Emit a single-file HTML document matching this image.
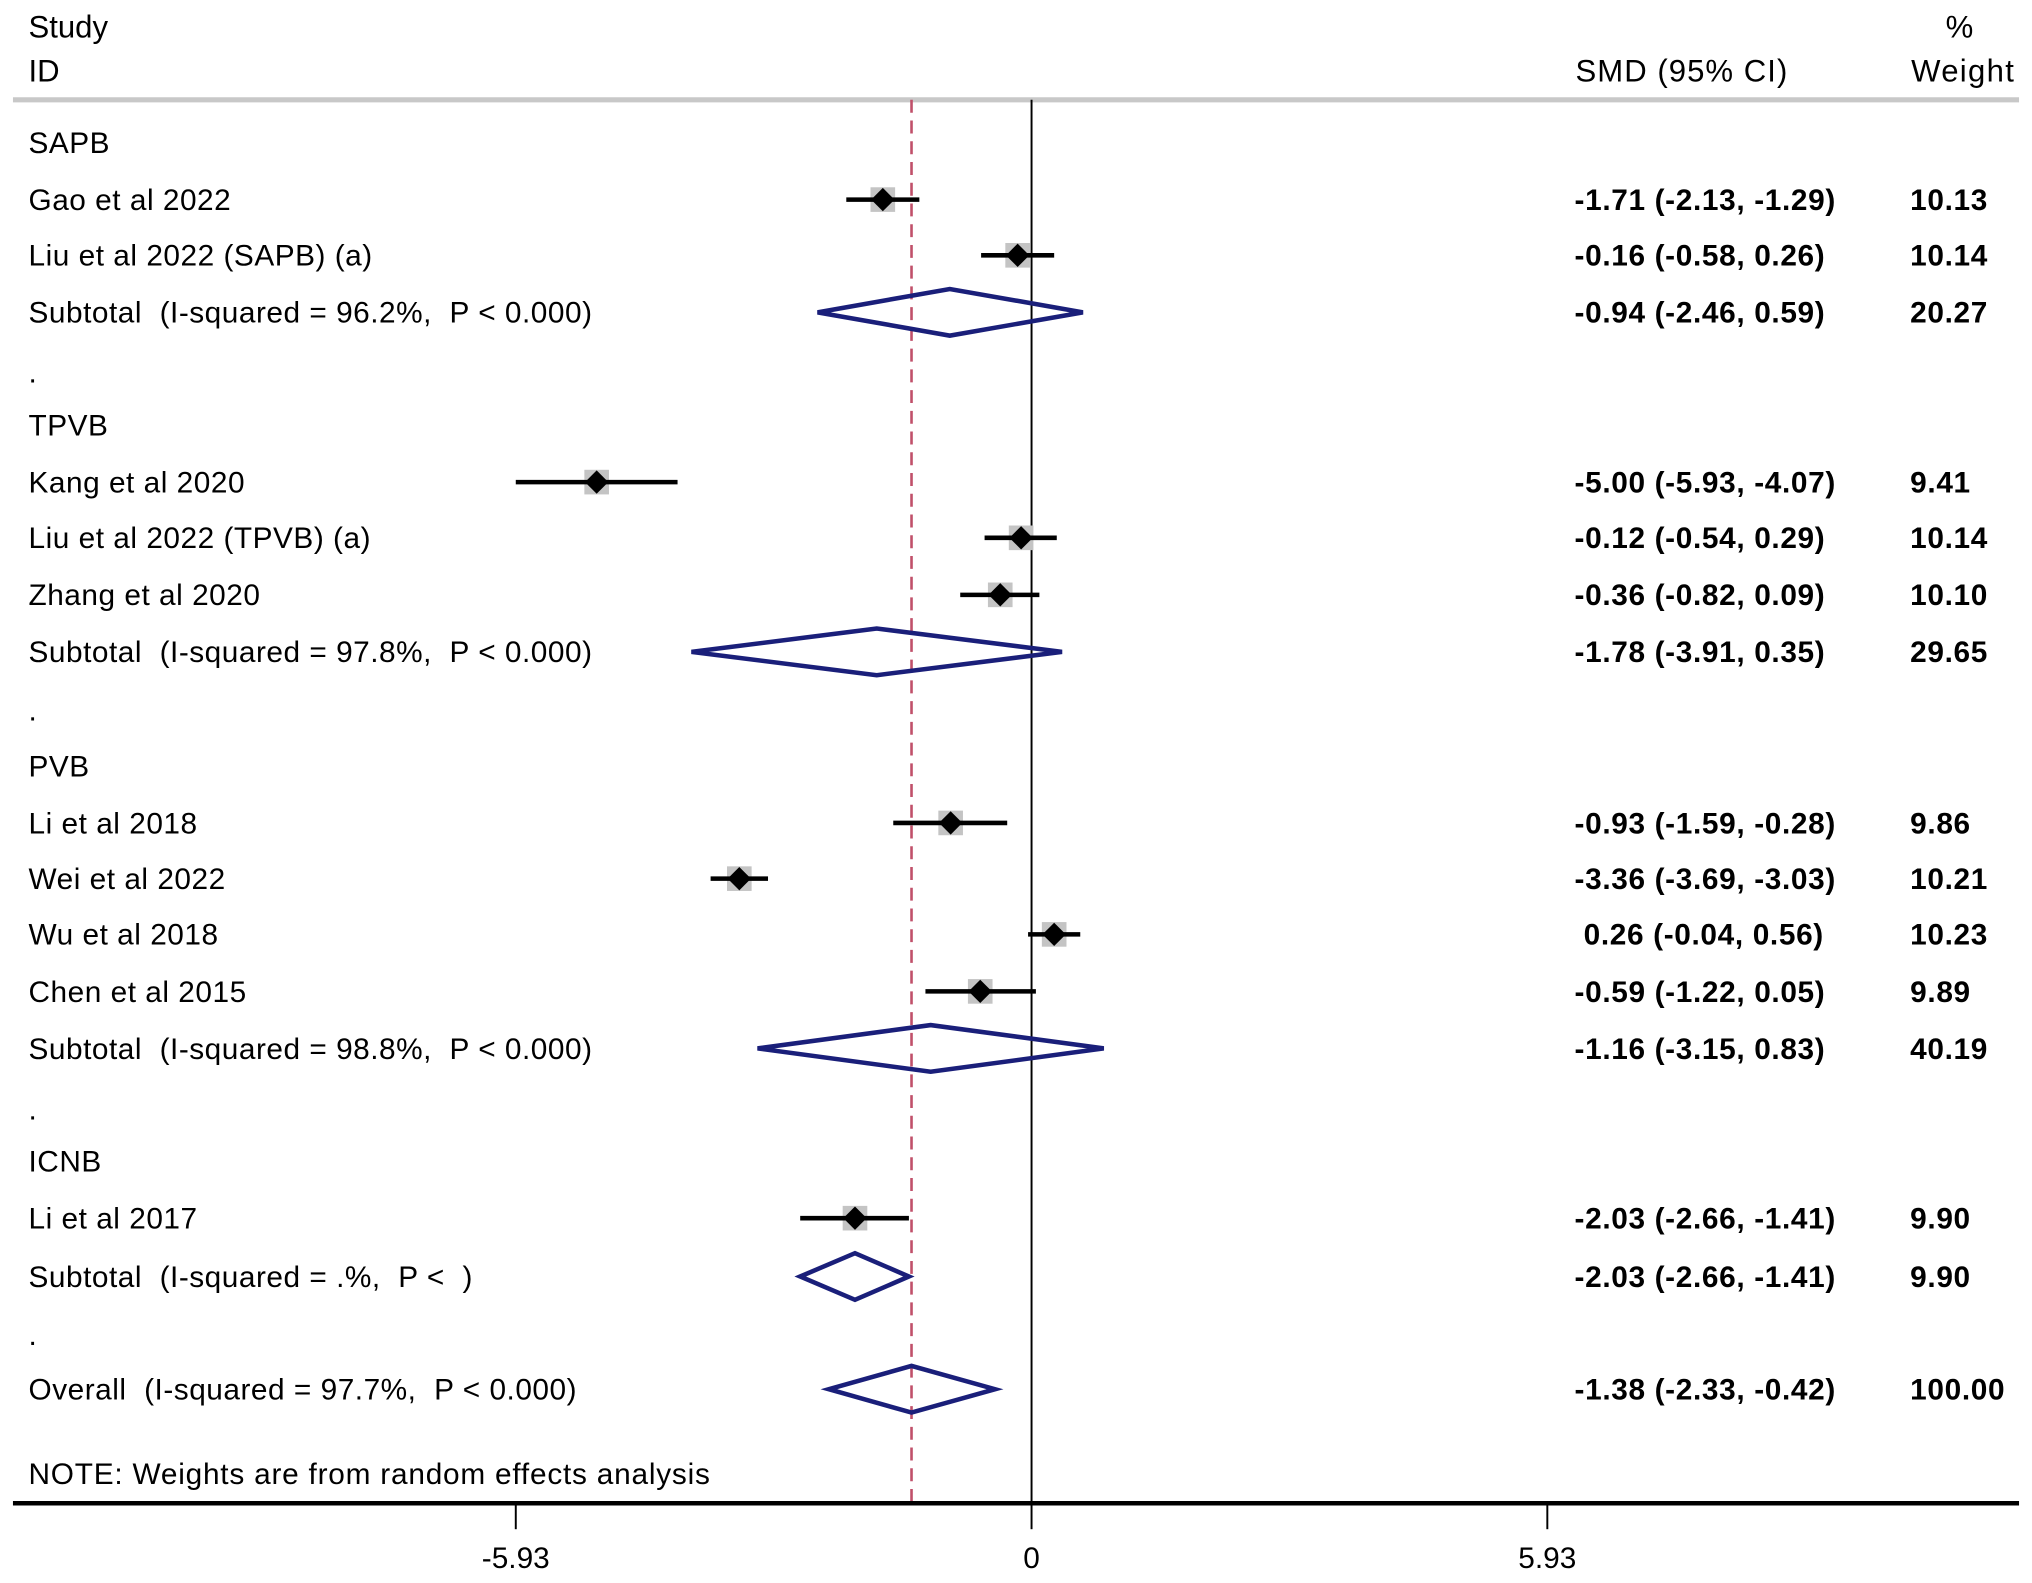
<!DOCTYPE html>
<html><head><meta charset="utf-8"><style>
html,body{margin:0;padding:0;background:#fff}
svg{display:block}
text{font-family:"Liberation Sans",Arial,sans-serif;fill:#000;white-space:pre}
</style></head><body>
<svg id="chart" width="2032" height="1583" viewBox="0 0 1568 1221.5" xmlns="http://www.w3.org/2000/svg" xml:space="preserve">
<g>
<text x="22" y="29" font-size="24">Study</text>
<text x="22" y="63" font-size="24">ID</text>
<text x="1380" y="63" font-size="24" letter-spacing="0.8" text-anchor="end">SMD (95% CI)</text>
<text x="1512" y="29" font-size="24" text-anchor="middle">%</text>
<text x="1555" y="63" font-size="24" letter-spacing="1" text-anchor="end">Weight</text>
<line x1="10" y1="77" x2="1558" y2="77" stroke="#c8c8c8" stroke-width="4"/>
</g>
<g id="plot"></g>
</svg>
<script>
const labels=["SAPB","Gao et al 2022","Liu et al 2022 (SAPB) (a)","Subtotal  (I-squared = 96.2%,  P < 0.000)",".","TPVB","Kang et al 2020","Liu et al 2022 (TPVB) (a)","Zhang et al 2020","Subtotal  (I-squared = 97.8%,  P < 0.000)",".","PVB","Li et al 2018","Wei et al 2022","Wu et al 2018","Chen et al 2015","Subtotal  (I-squared = 98.8%,  P < 0.000)",".","ICNB","Li et al 2017","Subtotal  (I-squared = .%,  P <  )",".","Overall  (I-squared = 97.7%,  P < 0.000)"];
const kinds=["h","s","s","d","x","h","s","s","s","d","x","h","s","s","s","s","d","x","h","s","d","x","d"];
const est=[null,-1.71,-0.16,-0.94,null,null,-5.00,-0.12,-0.36,-1.78,null,null,-0.93,-3.36,0.26,-0.59,-1.16,null,null,-2.03,-2.03,null,-1.38];
const lo=[null,-2.13,-0.58,-2.46,null,null,-5.93,-0.54,-0.82,-3.91,null,null,-1.59,-3.69,-0.04,-1.22,-3.15,null,null,-2.66,-2.66,null,-2.33];
const hi=[null,-1.29,0.26,0.59,null,null,-4.07,0.29,0.09,0.35,null,null,-0.28,-3.03,0.56,0.05,0.83,null,null,-1.41,-1.41,null,-0.42];
const weights=[null,"10.13","10.14","20.27",null,null,"9.41","10.14","10.10","29.65",null,null,"9.86","10.21","10.23","9.89","40.19",null,null,"9.90","9.90",null,"100.00"];
const rowY=[110,154,197,241,287,328,372,415,459,503,548,591,635,678,721,765,809,856,896,940,985,1030,1072];
const ticks=[-5.93,0,5.93];
const tickLabels=["-5.93","0","5.93"];
const overall=-1.38;

const NS="http://www.w3.org/2000/svg";
const g=document.getElementById("plot");
const xs=v=>796+v*(398/5.93);
function mk(tag,attrs,parent){const e=document.createElementNS(NS,tag);for(const k in attrs)e.setAttribute(k,attrs[k]);(parent||g).appendChild(e);return e;}
const fmt=v=>v.toFixed(2);

let zl=mk("line",{x1:xs(0),y1:77,x2:xs(0),y2:1160,stroke:"#000","stroke-width":1.5});


let ol=mk("line",{x1:xs(overall),y1:77,x2:xs(overall),y2:1160,stroke:"#c0506a","stroke-width":2,"stroke-dasharray":"10,6"});


let ax=mk("line",{x1:10,y1:1160,x2:1558,y2:1160,stroke:"#000","stroke-width":3.5});


ticks.forEach((t,i)=>{
  const tl=mk("line",{x1:xs(t),y1:1160,x2:xs(t),y2:1180,stroke:"#000","stroke-width":1.5});
  
  
  const tt=mk("text",{x:xs(t),y:1210,"font-size":23,"text-anchor":"middle"});
  tt.textContent=tickLabels[i];
  
  
});

labels.forEach((lab,i)=>{
  const y=rowY[i];
  const t=mk("text",{x:22,y:y+8,"font-size":23,"letter-spacing":0.4});
  t.textContent=lab;
  
  
  if(est[i]===null) return;
  const et=mk("text",{x:est[i]>=0?1222:1215,y:y+8,"font-size":23,"font-weight":"bold","letter-spacing":0.5});
  et.textContent=fmt(est[i])+" ("+fmt(lo[i])+", "+fmt(hi[i])+")";
  
  
  const wt=mk("text",{x:1474,y:y+8,"font-size":23,"font-weight":"bold","letter-spacing":0.5});
  wt.textContent=weights[i];
  
  
  if(kinds[i]==="s"){
    const x=xs(est[i]);
    const b=mk("rect",{x:x-9.5,y:y-9.5,width:19,height:19,fill:"#c4c4c4"});
    
    
    const ci=mk("line",{x1:xs(lo[i]),y1:y,x2:xs(hi[i]),y2:y,stroke:"#000","stroke-width":3.5});
    
    
    const p=mk("polygon",{points:`${x-9},${y} ${x},${y-9} ${x+9},${y} ${x},${y+9}`,fill:"#000"});
    
    
  } else {
    const d=mk("polygon",{points:`${xs(lo[i])},${y} ${xs(est[i])},${y-18} ${xs(hi[i])},${y} ${xs(est[i])},${y+18}`,fill:"none",stroke:"#1a1f7a","stroke-width":3.5});
    
    
  }
});
const note=mk("text",{x:22,y:1145,"font-size":23,"letter-spacing":0.6});
note.textContent="NOTE: Weights are from random effects analysis";


</script>
</body></html>
